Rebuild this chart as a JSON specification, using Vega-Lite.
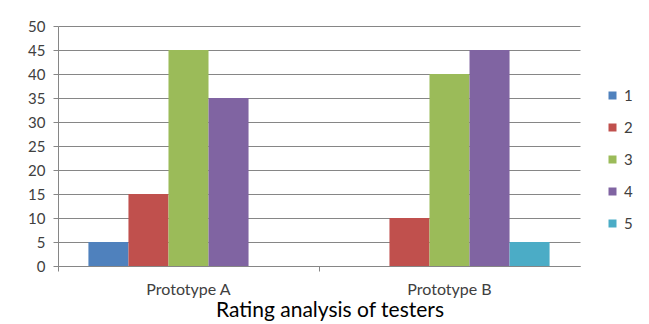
{
  "$schema": "https://vega.github.io/schema/vega-lite/v6.json",
  "autosize": "none",
  "width": 522,
  "height": 240,
  "padding": {"left": 58, "top": 26, "right": 69, "bottom": 58},
  "background": "white",
  "title": {
    "text": "Rating analysis of testers",
    "orient": "bottom",
    "anchor": "middle",
    "font": "Lato",
    "fontSize": 21,
    "fontWeight": "normal",
    "color": "#000000",
    "offset": 3,
    "dx": 11
  },
  "data": {
    "values": [
      {"prototype": "Prototype A", "rating": "1", "count": 5},
      {"prototype": "Prototype A", "rating": "2", "count": 15},
      {"prototype": "Prototype A", "rating": "3", "count": 45},
      {"prototype": "Prototype A", "rating": "4", "count": 35},
      {"prototype": "Prototype B", "rating": "2", "count": 10},
      {"prototype": "Prototype B", "rating": "3", "count": 40},
      {"prototype": "Prototype B", "rating": "4", "count": 45},
      {"prototype": "Prototype B", "rating": "5", "count": 5}
    ]
  },
  "mark": {"type": "bar"},
  "encoding": {
    "x": {
      "field": "prototype",
      "type": "nominal",
      "scale": {"paddingInner": 0, "paddingOuter": 0},
      "axis": {
        "title": null,
        "labelAngle": 0,
        "labelFont": "Lato",
        "labelFontSize": 16,
        "labelColor": "#404040",
        "labelPadding": 10,
        "bandPosition": 0,
        "tickSize": 5,
        "tickColor": "#868686",
        "domainColor": "#868686",
        "grid": false
      }
    },
    "xOffset": {
      "field": "rating",
      "type": "nominal",
      "scale": {"domain": ["1", "2", "3", "4", "5"], "paddingInner": 0, "paddingOuter": 0.76}
    },
    "y": {
      "field": "count",
      "type": "quantitative",
      "scale": {"domain": [0, 50], "nice": false},
      "axis": {
        "title": null,
        "values": [0, 5, 10, 15, 20, 25, 30, 35, 40, 45, 50],
        "labelFont": "Lato",
        "labelFontSize": 15,
        "labelColor": "#404040",
        "labelPadding": 8,
        "tickSize": 5,
        "tickColor": "#868686",
        "domainColor": "#868686",
        "gridColor": "#868686",
        "gridOpacity": 1
      }
    },
    "color": {
      "field": "rating",
      "type": "nominal",
      "scale": {
        "domain": ["1", "2", "3", "4", "5"],
        "range": ["#4F81BD", "#C0504D", "#9BBB59", "#8064A2", "#4BACC6"]
      },
      "legend": {
        "title": null,
        "orient": "none",
        "legendX": 547,
        "legendY": 62,
        "symbolType": "square",
        "symbolSize": 64,
        "symbolStrokeWidth": 0,
        "rowPadding": 16,
        "labelFont": "Lato",
        "labelFontSize": 15,
        "labelColor": "#404040"
      }
    }
  },
  "config": {
    "view": {"stroke": null}
  }
}
